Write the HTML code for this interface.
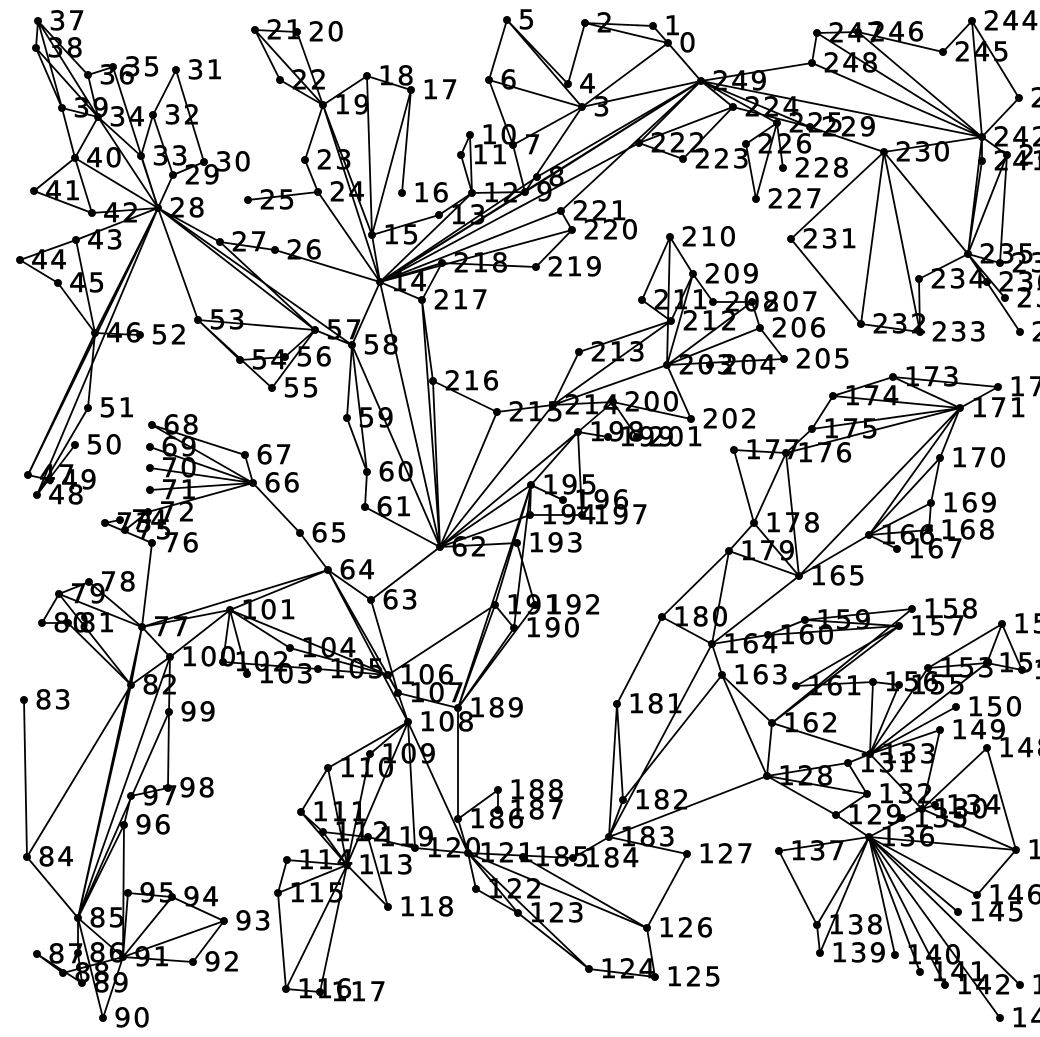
<!DOCTYPE html>
<html><head><meta charset="utf-8"><style>
html,body{margin:0;padding:0;background:#fff;width:1040px;height:1037px;overflow:hidden}
svg text{font-family:"DejaVu Sans","Liberation Sans",sans-serif;font-size:27px;letter-spacing:2px;fill:#000;stroke:#000;stroke-width:0.5}
</style></head><body>
<svg id="chart" width="1040" height="1037" viewBox="0 0 1040 1037"></svg>
<script>
const nodeIds = [0,1,2,3,4,5,6,7,8,9,10,11,12,13,14,15,16,17,18,19,20,21,22,23,24,25,26,27,28,29,30,31,32,33,34,35,36,37,38,39,40,41,42,43,44,45,46,47,48,49,50,51,52,53,54,55,56,57,58,59,60,61,62,63,64,65,66,67,68,69,70,71,72,73,74,75,76,77,78,79,80,81,82,83,84,85,86,87,88,89,90,91,92,93,94,95,96,97,98,99,100,101,102,103,104,105,106,107,108,109,110,111,112,113,114,115,116,117,118,119,120,121,122,123,124,125,126,127,128,129,130,131,132,133,134,135,136,137,138,139,140,141,142,143,144,145,146,147,148,149,150,151,152,153,154,155,156,157,158,159,160,161,162,163,164,165,166,167,168,169,170,171,172,173,174,175,176,177,178,179,180,181,182,183,184,185,186,187,188,189,190,191,192,193,194,195,196,197,198,199,200,201,202,203,204,205,206,207,208,209,210,211,212,213,214,215,216,217,218,219,220,221,222,223,224,225,226,227,228,229,230,231,232,233,234,235,236,237,238,239,240,241,242,243,244,245,246,247,248,249];
const nodeX = [668,653,585,582,568,507,489,513,537,525,470,461,472,439,380,372,402,411,367,323,297,255,280,305,318,248,275,220,158,173,204,176,153,141,98,113,88,38,36,62,75,34,92,76,20,58,95,28,37,50,75,88,140,198,240,272,285,315,352,347,367,365,440,
371,
328,300,253,245,152,150,150,150,148,105,120,125,152,
142,89,59,42,68,131,24,27,78,78,37,63,82,103,123,193,224,172,128,124,131,168,169,170,230,223,247,290,318,388,398,408,370,328,301,323,347,287,278,286,320,388,368,415,468,476,518,589,655,647,687,
767,836,922,848,867,870,935,902,869,779,817,820,895,920,945,1020,1000,958,977,1016,987,940,956,1022,1002,928,987,899,873,899,912,805,768,796,772,722,712,799,869,897,929,931,940,960,998,893,833,812,786,734,754,729,662,
617,623,609,573,523,458,498,498,458,514,495,535,
517,530,531,563,582,578,608,613,637,691,667,710,784,760,752,713,693,670,642,671,579,553,497,433,422,442,536,572,561,639,683,733,777,746,756,783,810,884,791,861,920,919,968,987,1005,1020,1000,1007,982,982,1019,972,943,858,817,812,701];
const nodeY = [43,26,23,107,84,20,80,145,177,192,135,155,193,215,282,235,193,90,76,105,32,30,80,160,192,200,250,242,208,175,162,70,115,156,117,67,75,21,48,108,158,191,213,240,260,283,333,475,495,480,445,408,335,320,360,388,357,330,345,418,472,507,547,
600,
570,533,483,455,425,447,468,490,512,523,520,530,543,
627,582,594,623,623,685,700,857,918,953,954,973,983,1018,957,962,921,897,893,825,796,788,712,657,610,662,674,648,669,675,693,722,754,768,812,832,865,860,893,989,992,907,837,848,853,889,913,969,977,928,854,
776,815,809,763,794,754,805,818,837,851,925,953,955,972,985,985,1018,912,895,850,748,730,707,670,624,668,663,685,682,626,609,620,635,686,723,675,644,576,535,549,530,503,458,408,387,377,396,429,453,450,523,551,617,
704,800,837,858,857,819,810,790,708,628,605,605,
543,515,485,500,515,432,437,402,437,419,365,365,359,328,302,302,274,237,300,321,352,405,412,381,300,263,267,230,211,143,159,107,123,144,199,168,127,152,239,324,332,279,254,282,298,332,263,155,161,137,98,21,52,32,33,63,81];
const edgePairs = ["37-38","37-36","37-39","37-34","38-39","38-34","36-34","36-35","39-34","39-40","34-40","34-28","40-28","40-41","40-42","41-42","42-28","43-28","43-44","44-45","45-46","43-46","33-28","33-34","32-33","32-31","32-29","31-30","30-29","29-28","35-28","27-28","28-46","28-47","28-48","28-53","28-57","28-58","46-52","46-51","46-47","51-48","50-48","49-47","53-57","53-54","53-55","54-56","56-57","55-57","57-58","27-57","26-27","26-14","25-24","24-23","23-19","22-19","21-20","21-22","21-19","20-19","19-18","19-15","18-15","17-15","17-18","24-14","19-14","15-14","14-58","14-62","14-217","14-218","58-59","58-62","58-60","59-60","60-61","61-62","62-63","63-64","64-65","65-66","66-67","66-68","66-69","66-70","66-71","66-72","67-68","64-77","64-101","64-107","64-108","101-102","101-103","101-104","101-106","104-106","105-106","102-105","101-100","76-77",
"78-79","78-77","79-80","79-77","79-82","80-81","81-82","77-82","77-100","77-101","100-82","100-99","99-98","98-97","100-85","99-85","97-96","96-91","96-85","95-91","95-94","94-93","94-91","93-91","93-92","91-92","84-83","84-82","84-85","85-91","85-86","82-85","77-85","91-90","91-88","87-89","87-88","86-89","85-90","76-73","73-74","75-72",
"63-107","106-107","106-191","107-189","107-108","108-109","108-110","108-113","108-121","108-120","113-109","113-110","113-111","113-112","113-114","113-115","113-116","113-117","113-118","110-111","111-112","119-120","119-118","120-121","121-186","186-189","186-188","187-188","189-191","189-192","189-190","191-190","189-195","191-195","121-122","121-123","121-124","121-126","121-184","122-123","123-124","124-125","126-125","126-127","185-126","184-183","183-182","183-181","183-127","182-181","115-116","116-117","114-115","112-119",
"62-217","62-216","217-216","62-215","62-214","62-198","62-195","62-194","62-193","216-215","215-214","214-213","214-212","213-212","203-214","214-200","210-211","210-203","210-209","211-212","209-203","209-212","209-208","208-207","207-203","207-206","206-203","206-205","203-205","203-202","200-201","200-202","200-198","198-199","198-197","198-195","195-196","195-194","195-190","194-197","193-192","181-180","180-179","180-164",
"173-174","173-171","172-171","172-173","174-171","174-175","175-171","176-171","175-176","177-176","177-178","176-178","176-165","178-179","178-165","179-165","165-171","166-171","166-170","170-171","170-169","169-168","169-166","166-167","166-168","165-166","165-164","164-179","164-183","164-160","160-159","159-158","160-157","159-157","164-163","163-162","163-182","162-157","162-158","161-157","161-156","156-155","156-133","155-133","162-133","162-128","133-154","133-153","133-150","133-149","133-131","133-130","128-131","128-132","131-132","128-129","129-132","130-149","130-148","130-136","129-136","130-134","130-147","148-147","147-146","136-147","136-137","136-138","136-139","136-140","136-141","136-142","136-143","136-144","136-145","136-146","137-138","138-139","152-151","152-153","152-154","154-151","153-154","128-183","163-128",
"247-246","247-248","247-242","246-245","246-242","245-244","244-243","244-242","243-242","248-249","248-242","249-242","249-224","249-229","249-225","224-229","224-222","223-224","225-226","226-227","227-225","228-225","229-230","230-242","230-231","230-232","230-233","230-235","231-232","232-233","233-234","234-235","235-242","235-241","235-236","235-237","235-238","235-239","235-240","240-239","242-241","240-242",
"5-6","5-4","5-3","2-4","2-1","2-0","1-0","0-3","0-249","6-3","6-7","3-7","3-9","3-249","10-11","10-12","11-12","7-9","12-13","13-15","16-17","14-9","14-8","14-249","14-222","14-220","14-221","14-12","221-249","221-220","220-219","218-219","218-217","249-222","222-223","12-9","8-249","9-249"];
const svg = document.getElementById('chart');
const NS = 'http://www.w3.org/2000/svg';
const px = id => nodeX[nodeIds.indexOf(id)];
const py = id => nodeY[nodeIds.indexOf(id)];
const gE = document.createElementNS(NS,'g');


svg.appendChild(gE);
edgePairs.forEach(p=>{
  const [a,b] = p.split('-').map(Number);
  const l = document.createElementNS(NS,'line');
  l.setAttribute('x1',px(a));l.setAttribute('y1',py(a));
  l.setAttribute('x2',px(b));l.setAttribute('y2',py(b));
  l.setAttribute('stroke','#000');l.setAttribute('stroke-width','1.8');
  
  
  gE.appendChild(l);
});
const gN = document.createElementNS(NS,'g');


svg.appendChild(gN);
for (let i=0;i<nodeIds.length;i++){
  const c = document.createElementNS(NS,'circle');
  c.setAttribute('cx',nodeX[i]);c.setAttribute('cy',nodeY[i]);c.setAttribute('r','4');c.setAttribute('fill','#000');
  
  
  gN.appendChild(c);
  const t = document.createElementNS(NS,'text');
  t.setAttribute('x',nodeX[i]+11);t.setAttribute('y',nodeY[i]+9);
  t.textContent = nodeIds[i];
  
  
  gN.appendChild(t);
}
</script>
</body></html>
